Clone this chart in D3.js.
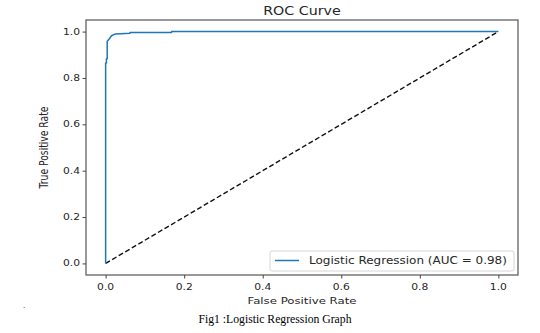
<!DOCTYPE html>
<html>
<head>
<meta charset="utf-8">
<script src="https://cdn.jsdelivr.net/npm/d3@7"></script>
<style>
  body { margin: 0; background: #fff; }
  svg { display: block; }
</style>
</head>
<body>
<div id="chart"></div>
<script>
// ROC points of the logistic regression model
const fpr = [0, 0, 0.002, 0.002, 0.004, 0.004, 0.009, 0.015, 0.025, 0.062, 0.062, 0.168, 0.168, 1];
const tpr = [0, 0.865, 0.865, 0.883, 0.883, 0.958, 0.968, 0.982, 0.99, 0.993, 0.996, 0.996, 1, 1];
const chanceLine = [0, 1];
const xTicks = [0, 0.2, 0.4, 0.6, 0.8, 1.0];
const yTicks = [0, 0.2, 0.4, 0.6, 0.8, 1.0];
const aucLabel = 'Logistic Regression (AUC = 0.98)';

const width = 540, height = 333;
const margin = { top: 20, right: 22, bottom: 58, left: 86 };
const sx = 1.25; // text is drawn a little wider than tall

const svg = d3.select('#chart').append('svg')
  .attr('width', width)
  .attr('height', height);

const xScale = d3.scaleLinear().domain([-0.05, 1.05]).range([margin.left, width - margin.right]);
const yScale = d3.scaleLinear().domain([-0.05, 1.05]).range([height - margin.bottom, margin.top]);

const font = 'DejaVu Sans, sans-serif';
const textColor = '#262626';

// helper for horizontally stretched text
function label(x, y, txt, size, anchor) {
  return svg.append('text')
    .attr('transform', `translate(${x},${y}) scale(${sx},1)`)
    .attr('text-anchor', anchor || 'middle')
    .attr('font-family', font)
    .attr('font-size', size)
    .attr('fill', textColor)
    .text(txt);
}

// axes
const xAxis = d3.axisBottom(xScale).tickValues(xTicks).tickFormat(d3.format('.1f')).tickSize(3.5).tickPadding(3);
const yAxis = d3.axisLeft(yScale).tickValues(yTicks).tickFormat(d3.format('.1f')).tickSize(3.5).tickPadding(3);

const gx = svg.append('g')
  .attr('transform', `translate(0,${height - margin.bottom})`)
  .call(xAxis);
const gy = svg.append('g')
  .attr('transform', `translate(${margin.left},0)`)
  .call(yAxis);

[gx, gy].forEach((g) => {
  g.select('.domain').remove();
  g.selectAll('.tick line').attr('stroke', '#444').attr('stroke-width', 1);
  g.selectAll('.tick text').remove();
});

// tick labels
xTicks.forEach((t) => label(xScale(t), height - margin.bottom + 15, d3.format('.1f')(t), 8.6));
yTicks.forEach((t) => label(margin.left - 6, yScale(t) + 3, d3.format('.1f')(t), 8.6, 'end'));

// frame
svg.append('rect')
  .attr('x', margin.left)
  .attr('y', margin.top)
  .attr('width', width - margin.left - margin.right)
  .attr('height', height - margin.top - margin.bottom)
  .attr('fill', 'none')
  .attr('stroke', '#555')
  .attr('stroke-width', 1.2);

// chance diagonal
svg.append('line')
  .attr('x1', xScale(chanceLine[0])).attr('y1', yScale(chanceLine[0]))
  .attr('x2', xScale(chanceLine[1])).attr('y2', yScale(chanceLine[1]))
  .attr('stroke', '#111')
  .attr('stroke-width', 1.4)
  .attr('stroke-dasharray', '5,2.6');

// ROC curve
const line = d3.line()
  .x((d, i) => xScale(fpr[i]))
  .y((d, i) => yScale(tpr[i]));

svg.append('path')
  .datum(fpr)
  .attr('d', line)
  .attr('fill', 'none')
  .attr('stroke', '#1f77b4')
  .attr('stroke-width', 1.5)
  .attr('stroke-linejoin', 'round');

// legend
const lg = { x: 270, y: 251, w: 244, h: 20 };
svg.append('rect')
  .attr('x', lg.x).attr('y', lg.y)
  .attr('width', lg.w).attr('height', lg.h)
  .attr('rx', 2)
  .attr('fill', '#fff')
  .attr('fill-opacity', 0.8)
  .attr('stroke', '#d6d6d6')
  .attr('stroke-width', 1);
svg.append('line')
  .attr('x1', lg.x + 5).attr('x2', lg.x + 29)
  .attr('y1', lg.y + 9.5).attr('y2', lg.y + 9.5)
  .attr('stroke', '#1f77b4')
  .attr('stroke-width', 1.5);
label(lg.x + 39, lg.y + 13, aucLabel, 9.6, 'start');

// titles
label((xScale.range()[0] + xScale.range()[1]) / 2, 15, 'ROC Curve', 11.4);
label((xScale.range()[0] + xScale.range()[1]) / 2, 304, 'False Positive Rate', 9.4);

svg.append('text')
  .attr('transform', `translate(48,${(yScale.range()[0] + yScale.range()[1]) / 2}) scale(${sx},1) rotate(-90)`)
  .attr('text-anchor', 'middle')
  .attr('font-family', font)
  .attr('font-size', 9.2)
  .attr('fill', textColor)
  .text('True Positive Rate');

// caption under the figure
svg.append('text')
  .attr('x', 275)
  .attr('y', 323)
  .attr('text-anchor', 'middle')
  .attr('font-family', 'Liberation Serif, Times New Roman, serif')
  .attr('font-size', 13)
  .attr('textLength', 153)
  .attr('lengthAdjust', 'spacingAndGlyphs')
  .attr('fill', '#000')
  .text('Fig1 :Logistic Regression Graph');

svg.append('text')
  .attr('x', 23)
  .attr('y', 308)
  .attr('font-family', 'Liberation Serif, serif')
  .attr('font-size', 9)
  .attr('fill', '#333')
  .text('.');
</script>
</body>
</html>
